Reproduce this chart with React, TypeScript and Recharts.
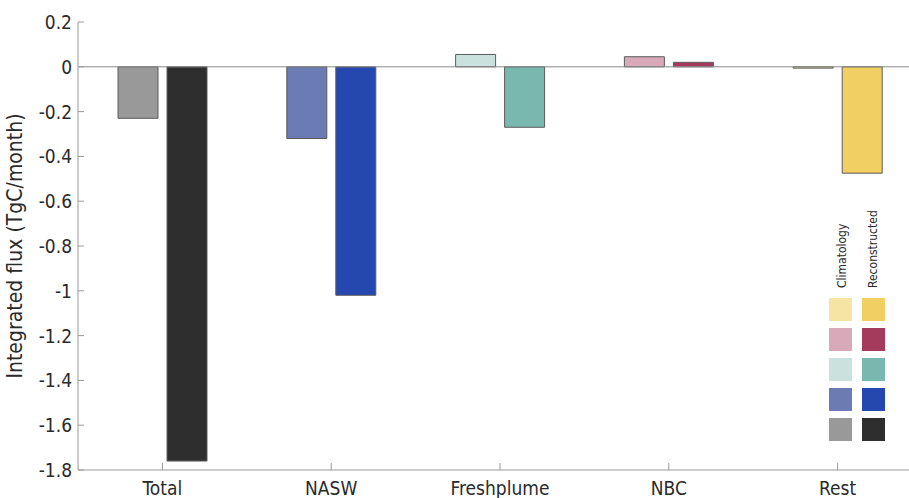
import React from 'react';
import { BarChart, Bar, XAxis, YAxis, Cell, ReferenceLine } from 'recharts';

const categories = ['Total', 'NASW', 'Freshplume', 'NBC', 'Rest'];
const climatology = [-0.23, -0.32, 0.055, 0.045, -0.006];
const reconstructed = [-1.76, -1.02, -0.27, 0.02, -0.475];
const climColors = ['#999999', '#6b7bb4', '#c9e2de', '#d8a9b9', '#f6e4a4'];
const reconColors = ['#2e2e2e', '#2548b0', '#78b8ae', '#a43b5c', '#f1cf63'];
const yTicks = [0.2, 0, -0.2, -0.4, -0.6, -0.8, -1, -1.2, -1.4, -1.6, -1.8];
const legendLabels = ['Climatology', 'Reconstructed'];

const data = categories.map((name, i) => ({
  name,
  climatology: climatology[i],
  reconstructed: reconstructed[i],
}));

const FONT = '"DejaVu Sans Condensed", "DejaVu Sans", sans-serif';
const AXIS = '#9a9a9a';
const TEXT = '#2a2a2a';

const YTick = ({ x, y, payload }: any) => (
  <g>
    <text x={x} y={y} dy={7} textAnchor="end" fontSize={19} fontFamily={FONT} fill={TEXT}>
      {String(payload.value)}
    </text>
    <line x1={x + 6} x2={x + 12} y1={y} y2={y} stroke={AXIS} />
  </g>
);

const XTick = ({ x, y, payload }: any) => (
  <g>
    <line x1={x} x2={x} y1={y} y2={y - 7} stroke={AXIS} />
    <text x={x} y={y + 25} textAnchor="middle" fontSize={19} fontFamily={FONT} fill={TEXT}>
      {payload.value}
    </text>
  </g>
);

const TopTick = ({ x, y }: any) => <line x1={x} x2={x} y1={y} y2={y + 6} stroke={AXIS} />;

const YLabel = ({ viewBox }: any) => {
  const cx = viewBox.x + 22;
  const cy = viewBox.y + viewBox.height / 2;
  return (
    <text
      x={cx}
      y={cy}
      transform={`rotate(-90 ${cx} ${cy})`}
      textAnchor="middle"
      fontSize={21}
      fontFamily={FONT}
      fill={TEXT}
    >
      Integrated flux (TgC/month)
    </text>
  );
};

// swatch legend, rows go from last category to first
const SwatchLegend = () => {
  const rows = categories.map((_, i) => i).reverse();
  return (
    <svg width={90} height={260} style={{ position: 'absolute', left: 820, top: 195 }}>
      {legendLabels.map((lab, c) => {
        const cx = 22 + c * 31;
        return (
          <text
            key={lab}
            x={cx}
            y={93}
            transform={`rotate(-90 ${cx} 93)`}
            textAnchor="start"
            dominantBaseline="middle"
            fontSize={12}
            fontFamily={FONT}
            fill={TEXT}
          >
            {lab}
          </text>
        );
      })}
      {rows.map((ci, r) => (
        <g key={ci}>
          <rect x={9} y={103 + r * 30} width={23} height={23} fill={climColors[ci]} />
          <rect x={42} y={103 + r * 30} width={23} height={23} fill={reconColors[ci]} />
        </g>
      ))}
    </svg>
  );
};

export default function App() {
  return (
    <div style={{ position: 'absolute', left: 0, top: 0, width: 909, height: 498, overflow: 'hidden', background: '#fff' }}>
      <BarChart
        width={922}
        height={498}
        data={data}
        margin={{ top: 22, right: 0, bottom: 0, left: 0 }}
        barCategoryGap={40}
        barGap={9}
      >
        <XAxis
          dataKey="name"
          height={28}
          tickSize={0}
          tickMargin={0}
          tickLine={false}
          tick={<XTick />}
          axisLine={{ stroke: AXIS }}
          interval={0}
        />
        <XAxis
          xAxisId="top"
          orientation="top"
          dataKey="name"
          height={0}
          tickSize={0}
          tickMargin={0}
          tickLine={false}
          tick={<TopTick />}
          axisLine={{ stroke: AXIS }}
          interval={0}
        />
        <YAxis
          width={78}
          domain={[-1.8, 0.2]}
          ticks={yTicks}
          interval={0}
          tickSize={0}
          tickMargin={6}
          tickLine={false}
          tick={<YTick />}
          axisLine={{ stroke: AXIS }}
          label={<YLabel />}
          allowDataOverflow
        />
        <ReferenceLine y={0} stroke="#8a8a8a" />
        <Bar dataKey="climatology" stroke="#5c5c5c" strokeWidth={1} isAnimationActive={false}>
          {data.map((d, i) => (
            <Cell key={d.name} fill={climColors[i]} />
          ))}
        </Bar>
        <Bar dataKey="reconstructed" stroke="#5c5c5c" strokeWidth={1} isAnimationActive={false}>
          {data.map((d, i) => (
            <Cell key={d.name} fill={reconColors[i]} />
          ))}
        </Bar>
      </BarChart>
      <SwatchLegend />
    </div>
  );
}
